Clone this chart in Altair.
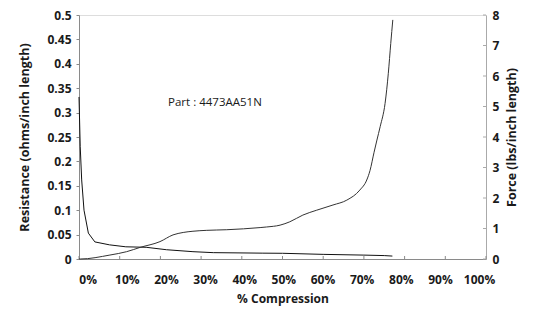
import altair as alt
import pandas as pd

# Resistance (left axis) vs % compression
res_x = [0.0, 0.3, 0.66, 1.23, 2.3, 3.9, 7.5, 11.5, 16.5, 21.5, 28.0, 33.0, 45.0, 50.0, 60.0, 70.0, 75.0, 77.0]
res_y = [0.332, 0.23, 0.162, 0.10, 0.053, 0.035, 0.029, 0.025, 0.024, 0.019, 0.015, 0.013, 0.012, 0.0117, 0.0095, 0.008, 0.007, 0.006]

# Force (right axis) vs % compression
force_x = [0.0, 0.3, 7.6, 11.7, 15.0, 19.9, 23.1, 25.6, 28.0, 31.4, 36.3, 44.5, 46.1, 49.4, 51.8, 55.0, 58.4, 62.4, 65.8, 69.0, 70.7, 71.5, 72.5, 73.2, 74.0, 75.2, 76.0, 76.6, 77.1]
force_y = [0.0, 0.0, 0.13, 0.24, 0.38, 0.57, 0.79, 0.87, 0.91, 0.94, 0.96, 1.03, 1.05, 1.11, 1.22, 1.44, 1.60, 1.77, 1.93, 2.26, 2.59, 2.9, 3.5, 3.9, 4.34, 5.1, 6.09, 7.07, 7.84]

left_ticks = [0, 0.05, 0.1, 0.15, 0.2, 0.25, 0.3, 0.35, 0.4, 0.45, 0.5]
right_ticks = [0, 1, 2, 3, 4, 5, 6, 7, 8]
x_ticks = [0, 10, 20, 30, 40, 50, 60, 70, 80, 90, 100]

annotation = "Part : 4473AA51N"
ann_x, ann_y = [33.4], [0.32]

FONT = "Open Sans"
TXT = "#1a1a1a"

res_df = pd.DataFrame({"x": res_x, "y": res_y})
force_df = pd.DataFrame({"x": force_x, "y": force_y})
xt_df = pd.DataFrame({"v": x_ticks})
rt_df = pd.DataFrame({"v": right_ticks})
ann_df = pd.DataFrame({"x": ann_x, "y": ann_y, "t": [annotation]})

xs = alt.Scale(domain=[0, 100], nice=False, zero=False)
ys_left = alt.Scale(domain=[0, 0.5], nice=False)
ys_right = alt.Scale(domain=[0, 8], nice=False)

x_main_axis = alt.Axis(labels=False, ticks=False, title=None, grid=False,
                       domainColor="#8a8a8a", domainWidth=1)
left_axis = alt.Axis(
    orient="left", values=left_ticks, tickCount=11, format=".2~f", grid=False, labelOverlap=False,
    domainColor="#8a8a8a", tickColor="#8a8a8a", tickSize=3, labelPadding=5,
    labelFont=FONT, labelFontWeight="bold", labelFontSize=12, labelColor=TXT,
    title="Resistance  (ohms/inch length)", titleFont=FONT, titleFontSize=12.5,
    titleFontWeight="bold", titleColor=TXT, titlePadding=15)
right_axis = alt.Axis(
    orient="right", values=right_ticks, tickCount=9, format="d", grid=False, ticks=False, labelOverlap=False,
    domainColor="#aaaaaa", labelPadding=6,
    labelFont=FONT, labelFontWeight="bold", labelFontSize=12, labelColor=TXT,
    title="Force (lbs/inch length)", titleFont=FONT, titleFontSize=12.5,
    titleFontWeight="bold", titleColor=TXT, titleAngle=270, titlePadding=20)

res_line = alt.Chart(res_df).mark_line(color="#111111", strokeWidth=1).encode(
    x=alt.X("x:Q", scale=xs, axis=x_main_axis),
    y=alt.Y("y:Q", scale=ys_left, axis=left_axis),
)

ann = alt.Chart(ann_df).mark_text(font=FONT, fontSize=11.5, color=TXT).encode(
    x=alt.X("x:Q", scale=xs, axis=x_main_axis),
    y=alt.Y("y:Q", scale=ys_left, axis=left_axis), text="t:N")

bottom_ticks = alt.Chart(xt_df).mark_rule(color="#8a8a8a", strokeWidth=1).encode(
    x=alt.X("v:Q", scale=xs, axis=x_main_axis), y=alt.value(241), y2=alt.value(244))

left = alt.layer(res_line, ann, bottom_ticks)

force_line = alt.Chart(force_df).mark_line(color="#333333", strokeWidth=1, interpolate="monotone").encode(
    x=alt.X("x:Q", scale=xs, axis=None),
    y=alt.Y("y:Q", scale=ys_right, axis=right_axis),
)

right_tick_marks = alt.Chart(rt_df).mark_rule(color="#aaaaaa", strokeWidth=1).encode(
    y=alt.Y("v:Q", scale=ys_right, axis=right_axis), x=alt.value(404), x2=alt.value(407))

right = alt.layer(force_line, right_tick_marks)

label_axis = alt.Chart(xt_df).mark_point(opacity=0).encode(
    x=alt.X("v:Q", scale=alt.Scale(domain=[-2.21, 101.77], nice=False, zero=False),
            axis=alt.Axis(orient="bottom", values=x_ticks, labelExpr="datum.value + '%'",
                          domain=False, ticks=False, grid=False, labelPadding=15, labelOverlap=False,
                          labelFont=FONT, labelFontWeight="bold", labelFontSize=12, labelColor=TXT,
                          title="% Compression", titleFont=FONT, titleFontSize=12,
                          titleFontWeight="bold", titleColor=TXT, titlePadding=8)),
)

chart = alt.layer(left, right, label_axis).resolve_scale(
    x="independent", y="independent"
).properties(
    width=407, height=244,
    autosize=alt.AutoSizeParams(type="none"),
    padding={"left": 71, "top": 7, "right": 45, "bottom": 49},
).configure_view(stroke=None).configure(background="white")

chart.save("out.html", embed_options={"renderer": "svg", "actions": False})
